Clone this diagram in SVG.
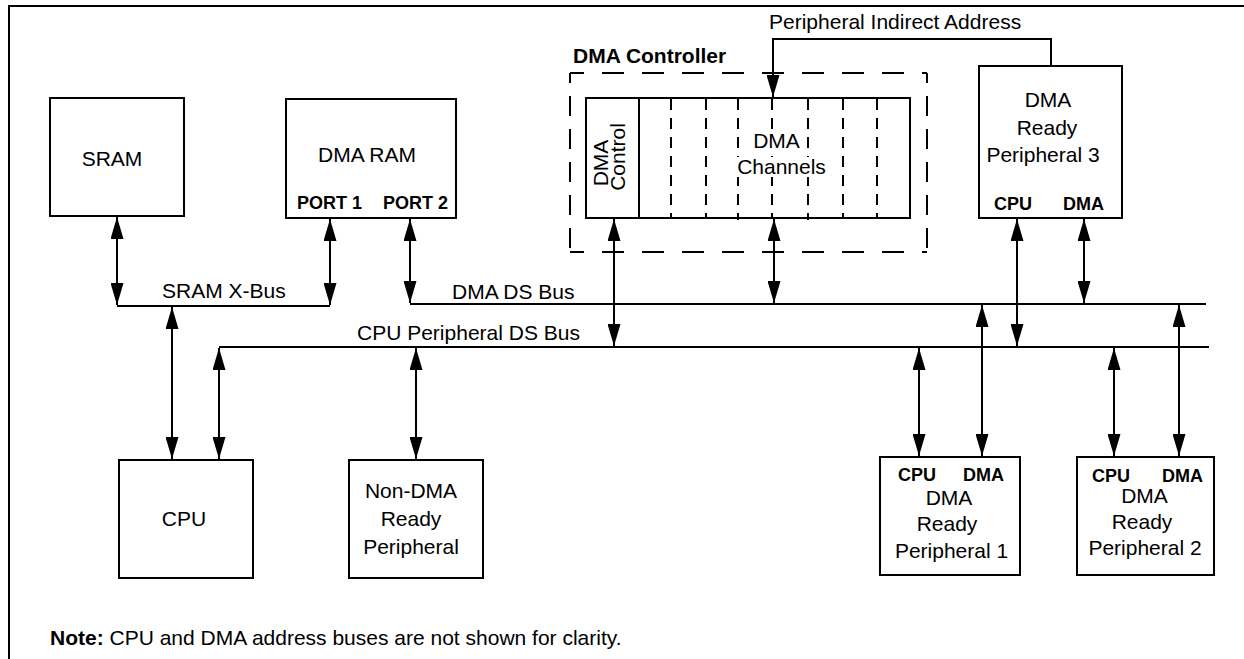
<svg xmlns="http://www.w3.org/2000/svg" width="1244" height="659" viewBox="0 0 1244 659">
<defs>
<marker id="ah" markerUnits="userSpaceOnUse" markerWidth="22" markerHeight="13" refX="22" refY="6.5" orient="auto-start-reverse">
<path d="M0,0 L22,6.5 L0,13 Z" fill="#000"/>
</marker>
<style>
.box{fill:#fff;stroke:#000;stroke-width:2}
.ln{fill:none;stroke:#000;stroke-width:2}
.arr{fill:none;stroke:#000;stroke-width:2;marker-start:url(#ah);marker-end:url(#ah)}
.dash{fill:none;stroke:#000;stroke-width:2}
.ch{fill:none;stroke:#000;stroke-width:2;stroke-dasharray:11 8}
text{font-family:"Liberation Sans",Arial,sans-serif;font-size:21px;fill:#000}
.c{text-anchor:middle}
.b{font-weight:bold}
.s{font-size:18px;font-weight:bold}
</style>
</defs>
<rect width="1244" height="659" fill="#fff"/>
<path class="ln" d="M9,659 V6 H1244"/>

<g id="connectors">
<line class="arr" x1="117" y1="217" x2="117" y2="305"/>
<path class="ln" d="M117,306 H330"/>
<line class="arr" x1="330" y1="219" x2="330" y2="305"/>
<line class="arr" x1="172" y1="307" x2="172" y2="459"/>
<line class="arr" x1="410" y1="219" x2="410" y2="303"/>
<path class="ln" d="M410,304 H1206"/>
<path class="ln" d="M219,347 H1209"/>
<line class="arr" x1="219" y1="348" x2="219" y2="459"/>
<line class="arr" x1="416" y1="348" x2="416" y2="459"/>
<line class="arr" x1="614" y1="219" x2="614" y2="346"/>
<line class="arr" x1="774" y1="219" x2="774" y2="303"/>
<path class="ln" d="M1051,66 V39 H773 V97" marker-end="url(#ah)"/>
<line class="arr" x1="1017" y1="219" x2="1017" y2="346"/>
<line class="arr" x1="1084" y1="219" x2="1084" y2="303"/>
<line class="arr" x1="919" y1="348" x2="919" y2="456"/>
<line class="arr" x1="982" y1="305" x2="982" y2="456"/>
<line class="arr" x1="1114" y1="348" x2="1114" y2="456"/>
<line class="arr" x1="1179" y1="305" x2="1179" y2="456"/>
<text x="769" y="29">Peripheral Indirect Address</text>
<text x="162" y="298">SRAM X-Bus</text>
<text x="452" y="299">DMA DS Bus</text>
<text x="357" y="340">CPU Peripheral DS Bus</text>
</g>

<g id="sram">
<rect class="box" x="50" y="98" width="134" height="118"/>
<text class="c" x="112" y="166">SRAM</text>
</g>

<g id="dma-ram">
<rect class="box" x="286" y="99" width="170" height="119"/>
<text class="c" x="367" y="162">DMA RAM</text>
<text class="s" x="297" y="209">PORT 1</text>
<text class="s" x="383" y="209">PORT 2</text>
</g>

<g id="dma-controller">
<path class="dash" d="M570,73 H927" stroke-dasharray="22 18" stroke-dashoffset="8"/>
<path class="dash" d="M570,252 H927" stroke-dasharray="22 18" stroke-dashoffset="8"/>
<path class="dash" d="M570,73 V252" stroke-dasharray="20 13" stroke-dashoffset="10"/>
<path class="dash" d="M927,73 V252" stroke-dasharray="20 13" stroke-dashoffset="10"/>
<text class="b" x="573" y="63">DMA Controller</text>
<rect class="box" x="586" y="98" width="324" height="120"/>
<line class="ln" x1="639" y1="98" x2="639" y2="218"/>
<g id="channels">
<line class="ch" x1="671" y1="99" x2="671" y2="218"/>
<line class="ch" x1="706" y1="99" x2="706" y2="218"/>
<line class="ch" x1="738" y1="99" x2="738" y2="220"/>
<line class="ch" x1="772" y1="99" x2="772" y2="218"/>
<line class="ch" x1="808" y1="99" x2="808" y2="220"/>
<line class="ch" x1="843" y1="99" x2="843" y2="218"/>
<line class="ch" x1="877" y1="99" x2="877" y2="218"/>
<rect x="752" y="130" width="50" height="21" fill="#fff"/>
<rect x="735" y="157" width="92" height="20" fill="#fff"/>
<text class="c" x="776.5" y="147.5">DMA</text>
<text class="c" x="781.5" y="174">Channels</text>
</g>
<text class="c" transform="translate(608,163) rotate(-90)">DMA</text>
<text class="c" transform="translate(625,157) rotate(-90)">Control</text>
</g>

<g id="peripheral3">
<rect class="box" x="979" y="66" width="143" height="152"/>
<text class="c" x="1048" y="107">DMA</text>
<text class="c" x="1047" y="134.5">Ready</text>
<text class="c" x="1043" y="162">Peripheral 3</text>
<text class="s" x="994" y="210">CPU</text>
<text class="s" x="1063" y="210">DMA</text>
</g>

<g id="cpu">
<rect class="box" x="119" y="460" width="134" height="118"/>
<text class="c" x="184" y="526">CPU</text>
</g>

<g id="non-dma">
<rect class="box" x="349" y="460" width="134" height="118"/>
<text class="c" x="411" y="498">Non-DMA</text>
<text class="c" x="411" y="526">Ready</text>
<text class="c" x="411" y="554">Peripheral</text>
</g>

<g id="peripheral1">
<rect class="box" x="880" y="457" width="140" height="118"/>
<text class="s" x="898" y="481">CPU</text>
<text class="s" x="963" y="481">DMA</text>
<text class="c" x="949" y="505">DMA</text>
<text class="c" x="947" y="531">Ready</text>
<text class="c" x="951.5" y="558">Peripheral 1</text>
</g>

<g id="peripheral2">
<rect class="box" x="1077" y="457" width="137" height="118"/>
<text class="s" x="1092" y="482">CPU</text>
<text class="s" x="1162" y="482">DMA</text>
<text class="c" x="1144.5" y="503">DMA</text>
<text class="c" x="1142" y="529">Ready</text>
<text class="c" x="1145" y="555">Peripheral 2</text>
</g>

<g id="note">
<text x="50" y="645"><tspan class="b">Note:</tspan> CPU and DMA address buses are not shown for clarity.</text>
</g>
</svg>
